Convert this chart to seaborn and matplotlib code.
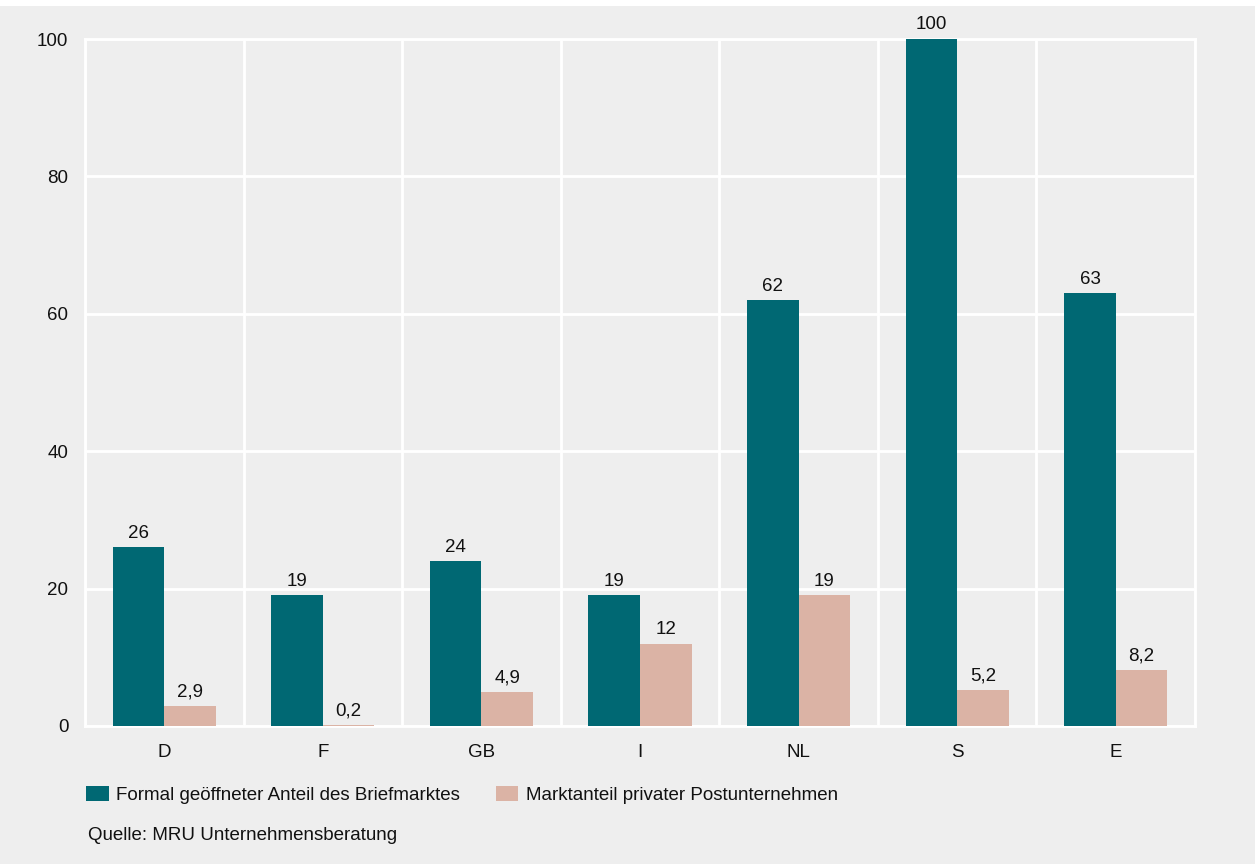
import matplotlib
matplotlib.use("Agg")
import matplotlib.pyplot as plt
from matplotlib.patches import Rectangle, Patch
import seaborn as sns
import pandas as pd

# Data
countries = ["D", "F", "GB", "I", "NL", "S", "E"]
opened_share = [26, 19, 24, 19, 62, 100, 63]
private_share = [2.9, 0.2, 4.9, 12, 19, 5.2, 8.2]
series_names = ["Formal geöffneter Anteil des Briefmarktes",
                "Marktanteil privater Postunternehmen"]
y_ticks = [0, 20, 40, 60, 80, 100]
source_note = "Quelle: MRU Unternehmensberatung"

TEAL = "#006873"
ROSE = "#dbb3a5"
BG = "#eeeeee"
TXT = "#111111"
FS = 13.5

df = pd.DataFrame({
    "Land": countries * 2,
    "Wert": opened_share + private_share,
    "Reihe": [series_names[0]] * len(countries) + [series_names[1]] * len(countries),
})

sns.set_theme(style="white")
plt.rcParams["font.family"] = ["Liberation Sans", "DejaVu Sans"]

fig = plt.figure(figsize=(12.55, 8.64), dpi=100, facecolor=BG)
fig.patches.append(Rectangle((0, 1 - 6 / 864), 1, 6 / 864, transform=fig.transFigure,
                             facecolor="white", edgecolor="none", zorder=0))
ax = fig.add_axes([85 / 1255, 1 - 726 / 864, (1195 - 85) / 1255, (726 - 39) / 864])
ax.set_facecolor(BG)

sns.barplot(data=df, x="Land", y="Wert", hue="Reihe", order=countries,
            hue_order=series_names, palette=[TEAL, ROSE], width=0.65, gap=0,
            saturation=1, ax=ax, legend=False, zorder=5)

def fmt(v):
    return f"{v:g}".replace(".", ",")

for cont, vals in zip(ax.containers, [opened_share, private_share]):
    for bar in cont:
        bar.set_edgecolor("none")
        bar.set_zorder(5)
    ax.bar_label(cont, labels=[fmt(v) for v in vals], padding=4, fontsize=FS, color=TXT)

ax.set_ylim(0, 100)
ax.set_xlim(-0.5, len(countries) - 0.5)
ax.set_yticks(y_ticks)
ax.set_xticks(range(len(countries)))
ax.set_xticks([i - 0.5 for i in range(len(countries) + 1)], minor=True)
ax.set_xlabel("")
ax.set_ylabel("")
ax.tick_params(axis="y", length=0, pad=12, labelsize=FS, labelcolor=TXT)
ax.tick_params(axis="x", which="major", length=0, pad=13, labelsize=FS, labelcolor=TXT)
ax.tick_params(axis="x", which="minor", length=0)
ax.grid(True, axis="y", which="major", color="white", linewidth=2, zorder=1)
ax.grid(True, axis="x", which="minor", color="white", linewidth=2, zorder=1)
ax.grid(False, axis="x", which="major")
ax.set_axisbelow(True)
for sp in ax.spines.values():
    sp.set_color("white")
    sp.set_linewidth(2)
    sp.set_zorder(2)

handles = [Patch(facecolor=TEAL, edgecolor="none"), Patch(facecolor=ROSE, edgecolor="none")]
fig.legend(handles, series_names, loc="center left",
           bbox_to_anchor=(86 / 1255, 1 - 795 / 864), ncol=2, frameon=False,
           fontsize=FS, handlelength=1.2, handleheight=0.85, handletextpad=0.4,
           columnspacing=1.9, borderaxespad=0, borderpad=0, labelcolor=TXT)

fig.text(88 / 1255, 1 - 835 / 864, source_note, fontsize=FS, color=TXT,
         ha="left", va="center")

fig.savefig("out.png", dpi=100, facecolor=BG)
